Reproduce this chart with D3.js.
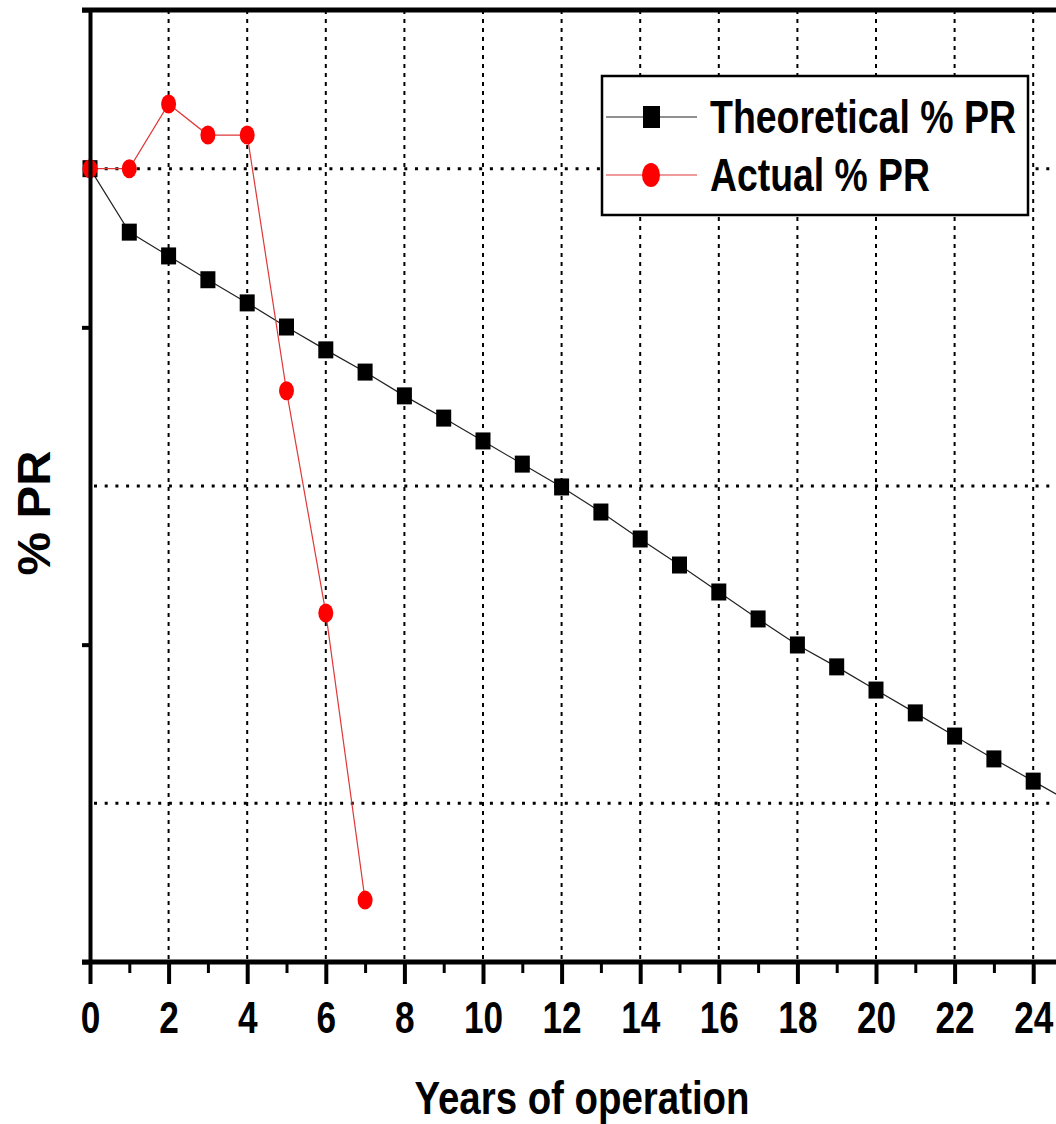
<!DOCTYPE html>
<html lang="en">
<head>
<meta charset="UTF-8">
<title>% PR over years</title>
<style>
    body { margin: 0; background: #fff; }
    svg { display: block; }
    text { font-family: "Liberation Sans", Arial, sans-serif; font-weight: bold; fill: #000; }
    .axis path, .axis line { stroke: #000; }
    .grid-x { stroke: #000; stroke-width: 2; stroke-dasharray: 4 5; }
    .grid-y { stroke: #000; stroke-width: 3; stroke-dasharray: 3 7.7; }
</style>
</head>
<body>
<script src="https://d3js.org/d3.v7.min.js"></script>
<script>

    // data (y units are arbitrary, axis has no labels)
    var years = d3.range(0, 26);
    var theoretical = [85.0, 83.0, 82.25, 81.5, 80.77, 80.01, 79.29, 78.59, 77.84, 77.14,
                       76.42, 75.69, 74.97, 74.18, 73.33, 72.51, 71.66, 70.81, 69.99, 69.3,
                       68.57, 67.85, 67.12, 66.4, 65.7, 65.0];
    var actualYears = [0, 1, 2, 3, 4, 5, 6, 7];
    var actual = [85.0, 85.0, 87.04, 86.06, 86.06, 78.0, 71.0, 61.95];
    var xMajorTicks = [0, 2, 4, 6, 8, 10, 12, 14, 16, 18, 20, 22, 24];
    var xMinorTicks = [1, 3, 5, 7, 9, 11, 13, 15, 17, 19, 21, 23, 25];
    var yTicks = [60, 70, 80, 90];
    var yGrid = [65, 75, 85];
    var seriesNames = ["Theoretical % PR", "Actual % PR"];

    var W = 1056, H = 1124;
    var margin = {top: 10, left: 90};
    var x = d3.scaleLinear().domain([0, 25]).range([margin.left, margin.left + 25 * 39.3]);
    var y = d3.scaleLinear().domain([60, 90]).range([962, 10]);

    var svg = d3.select("body").append("svg")
        .attr("width", W)
        .attr("height", H);

    // grid
    svg.append("g").selectAll("line")
        .data(xMajorTicks.filter(function(d) { return d > 0; }))
        .enter().append("line")
        .attr("class", "grid-x")
        .attr("x1", function(d) { return x(d); })
        .attr("x2", function(d) { return x(d); })
        .attr("y1", y(90))
        .attr("y2", y(60));

    svg.append("g").selectAll("line")
        .data(yGrid)
        .enter().append("line")
        .attr("class", "grid-y")
        .attr("x1", x(0) + 4)
        .attr("x2", x(25))
        .attr("y1", function(d) { return y(d); })
        .attr("y2", function(d) { return y(d); });

    // lines
    var lineT = d3.line()
        .x(function(d, i) { return x(years[i]); })
        .y(function(d) { return y(d); });
    var lineA = d3.line()
        .x(function(d, i) { return x(actualYears[i]); })
        .y(function(d) { return y(d); });

    svg.append("path")
        .datum(theoretical)
        .attr("fill", "none")
        .attr("stroke", "#222")
        .attr("stroke-width", 1.2)
        .attr("d", lineT);

    svg.append("path")
        .datum(actual)
        .attr("fill", "none")
        .attr("stroke", "#e03838")
        .attr("stroke-width", 1.2)
        .attr("d", lineA);

    svg.append("g").selectAll("rect")
        .data(theoretical)
        .enter().append("rect")
        .attr("x", function(d, i) { return x(years[i]) - 7.5; })
        .attr("y", function(d) { return y(d) - 8.5; })
        .attr("width", 15)
        .attr("height", 17)
        .attr("fill", "#000");

    svg.append("g").selectAll("ellipse")
        .data(actual)
        .enter().append("ellipse")
        .attr("cx", function(d, i) { return x(actualYears[i]); })
        .attr("cy", function(d) { return y(d); })
        .attr("rx", 7.5)
        .attr("ry", 9.5)
        .attr("fill", "#ff0000");

    // axes
    var xAxisMajor = svg.append("g")
        .attr("class", "axis")
        .attr("transform", "translate(0," + y(60) + ")")
        .call(d3.axisBottom(x).tickValues(xMajorTicks).tickSize(22).tickPadding(18).tickFormat(d3.format("d")));
    xAxisMajor.select(".domain").remove();
    xAxisMajor.selectAll(".tick line").attr("stroke-width", 4);
    xAxisMajor.selectAll(".tick text")
        .attr("font-size", 44)
        .attr("font-family", null)
        .attr("transform", "scale(0.8,1)");

    var xAxisMinor = svg.append("g")
        .attr("class", "axis")
        .attr("transform", "translate(0," + y(60) + ")")
        .call(d3.axisBottom(x).tickValues(xMinorTicks).tickSize(11).tickFormat(""));
    xAxisMinor.select(".domain").remove();
    xAxisMinor.selectAll(".tick line").attr("stroke-width", 3);

    var yAxis = svg.append("g")
        .attr("class", "axis")
        .attr("transform", "translate(" + x(0) + ",0)")
        .call(d3.axisLeft(y).tickValues(yTicks).tickSize(8).tickSizeOuter(0).tickFormat(""));
    yAxis.select(".domain").attr("stroke-width", 4);
    yAxis.selectAll(".tick line").attr("stroke-width", 4);

    // bottom and top frame lines
    svg.append("line")
        .attr("x1", x(0) - 8).attr("x2", x(25))
        .attr("y1", y(60)).attr("y2", y(60))
        .attr("stroke", "#000").attr("stroke-width", 5);
    svg.append("line")
        .attr("x1", x(0) - 8).attr("x2", x(25))
        .attr("y1", y(90)).attr("y2", y(90))
        .attr("stroke", "#000").attr("stroke-width", 5);

    // axis titles
    svg.append("text")
        .attr("x", 582)
        .attr("y", 1114)
        .attr("text-anchor", "middle")
        .attr("font-size", 46)
        .attr("textLength", 335)
        .attr("lengthAdjust", "spacingAndGlyphs")
        .text("Years of operation");

    svg.append("text")
        .attr("transform", "translate(50,513) rotate(-90)")
        .attr("text-anchor", "middle")
        .attr("font-size", 46)
        .attr("textLength", 125)
        .attr("lengthAdjust", "spacingAndGlyphs")
        .text("% PR");

    // legend
    var legend = svg.append("g");
    legend.append("rect")
        .attr("x", 602).attr("y", 76)
        .attr("width", 426).attr("height", 139)
        .attr("fill", "#fff")
        .attr("stroke", "#000")
        .attr("stroke-width", 2.5);

    var rowY = [117, 175];
    var colors = ["#222", "#e03838"];
    var textLen = [306, 220];
    legend.selectAll(".lline")
        .data(seriesNames)
        .enter().append("line")
        .attr("x1", 606).attr("x2", 697)
        .attr("y1", function(d, i) { return rowY[i]; })
        .attr("y2", function(d, i) { return rowY[i]; })
        .attr("stroke", function(d, i) { return colors[i]; })
        .attr("stroke-width", 1.2);

    legend.append("rect")
        .attr("x", 643).attr("y", rowY[0] - 11)
        .attr("width", 17).attr("height", 22)
        .attr("fill", "#000");
    legend.append("ellipse")
        .attr("cx", 651).attr("cy", rowY[1])
        .attr("rx", 9).attr("ry", 12)
        .attr("fill", "#ff0000");

    legend.selectAll("text")
        .data(seriesNames)
        .enter().append("text")
        .attr("x", 710)
        .attr("y", function(d, i) { return rowY[i] + 16; })
        .attr("font-size", 46)
        .attr("textLength", function(d, i) { return textLen[i]; })
        .attr("lengthAdjust", "spacingAndGlyphs")
        .text(function(d) { return d; });

</script>
</body>
</html>
